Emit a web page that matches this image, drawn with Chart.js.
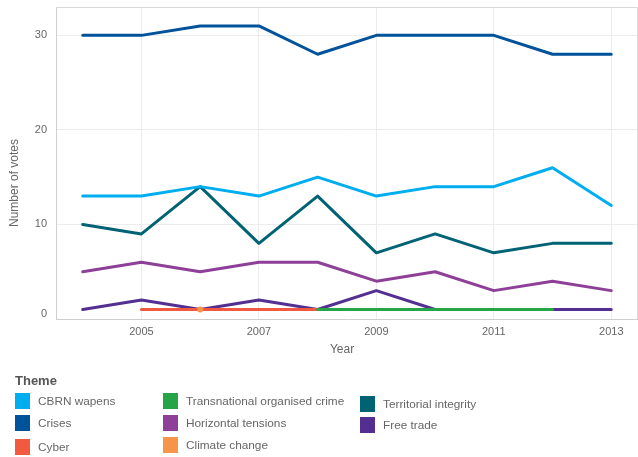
<!DOCTYPE html>
<html>
<head>
<meta charset="utf-8">
<script src="https://cdn.jsdelivr.net/npm/chart.js@4.4.1/dist/chart.umd.min.js"></script>
<style>
  html, body { margin:0; padding:0; background:#fff; }
  body { width:638px; height:457px; position:relative; overflow:hidden; font-family:"Liberation Sans",Arial,sans-serif; }
  #wrap { position:absolute; left:0; top:0; width:641px; height:360px; }
  #legend { position:absolute; left:0; top:0; width:638px; height:457px; pointer-events:none; }
  .ttl { position:absolute; left:15px; top:373px; font-weight:bold; font-size:13px; color:#555; }
  .item { position:absolute; height:16px; display:flex; align-items:center; font-size:11.8px; color:#666; white-space:nowrap; }
  .sw { width:15px; height:16px; margin-right:8px; flex:none; }
</style>
</head>
<body>
<div id="wrap"><canvas id="c" width="641" height="360"></canvas></div>
<div id="legend"><div class="ttl">Theme</div></div>
<script>
const years = [2004, 2005, 2006, 2007, 2008, 2009, 2010, 2011, 2012, 2013];
const xTicks = [2005, 2007, 2009, 2011, 2013];
const yTicks = [0, 10, 20, 30];

const cbrn          = [13, 13, 14, 13, 15, 13, 14, 14, 16, 12];
const crises        = [30, 30, 31, 31, 28, 30, 30, 30, 28, 28];
const cyber         = [null, 1, 1, 1, 1, null, null, null, null, null];
const transnational = [null, null, null, null, 1, 1, 1, 1, 1, null];
const horizontal    = [5, 6, 5, 6, 6, 4, 5, 3, 4, 3];
const climate       = [null, null, 1, null, null, null, null, null, null, null];
const territorial   = [10, 9, 14, 8, 13, 7, 9, 7, 8, 8];
const freeTrade     = [1, 2, 1, 2, 1, 3, 1, 1, 1, 1];

const seriesNames = ["CBRN wapens", "Crises", "Cyber", "Transnational organised crime",
                     "Horizontal tensions", "Climate change", "Territorial integrity", "Free trade"];
const seriesData = [cbrn, crises, cyber, transnational, horizontal, climate, territorial, freeTrade];
const colors = ["#00AEEF", "#00529B", "#F15A40", "#26A548", "#8E3F98", "#F6944A", "#006374", "#532F91"];
// draw order (lower = on top)
const drawOrder = [4, 3, 2, 1, 5, 0, 6, 7];

// legend layout (positions)
const legendPos = [
  [15, 393], [15, 415], [15, 439],
  [163, 393], [163, 415], [163, 437],
  [360, 396], [360, 417]
];

const datasets = seriesNames.map((name, i) => ({
  label: name,
  data: years.map((y, k) => ({x: y, y: seriesData[i][k]})).filter(p => p.y !== null),
  borderColor: colors[i],
  backgroundColor: colors[i],
  borderWidth: 3,
  pointRadius: name === "Climate change" ? 3 : 0,
  pointBorderWidth: 0,
  pointHoverRadius: 0,
  tension: 0,
  order: drawOrder[i],
  borderCapStyle: 'round',
  borderJoinStyle: 'round'
}));

const frame = {
  id: 'frame',
  beforeDatasetsDraw(chart) {
    const {ctx, chartArea: a} = chart;
    ctx.save();
    ctx.strokeStyle = '#d9d9d9';
    ctx.lineWidth = 1;
    ctx.beginPath();
    ctx.moveTo(a.left, a.top + 0.5);
    ctx.lineTo(a.right - 0.5, a.top + 0.5);
    ctx.lineTo(a.right - 0.5, a.bottom);
    ctx.stroke();
    ctx.restore();
  }
};

const tickFont = { family: "'Liberation Sans', Arial, sans-serif", size: 11, lineHeight: '10px' };

new Chart(document.getElementById('c'), {
  type: 'line',
  data: { datasets },
  plugins: [frame],
  options: {
    responsive: false,
    animation: false,
    events: [],
    layout: { padding: { top: 7, right: 0, left: 0, bottom: 0 } },
    plugins: { legend: { display: false }, tooltip: { enabled: false } },
    scales: {
      x: {
        type: 'linear',
        min: 2003.545,
        max: 2013.455,
        afterBuildTicks: s => { s.ticks = xTicks.map(v => ({ value: v })); },
        afterFit: s => { s.height = 41; s.paddingLeft = 0; s.paddingRight = 0; },
        ticks: { color: '#666', font: { family: "'Liberation Sans', Arial, sans-serif", size: 11 }, padding: 6, maxRotation: 0, autoSkip: false, callback: v => String(v) },
        grid: { color: '#ececec', drawTicks: false, lineWidth: 1 },
        border: { color: '#cfcfcf', width: 1 },
        title: { display: true, text: 'Year' + '\u00a0'.repeat(3), color: '#666', font: { family: "'Liberation Sans', Arial, sans-serif", size: 12 }, padding: { top: 0, bottom: 3 } }
      },
      y: {
        min: 0,
        max: 33,
        afterBuildTicks: s => { s.ticks = yTicks.map(v => ({ value: v })); },
        afterFit: s => { s.width = 56; s.paddingTop = 0; s.paddingBottom = 0; },
        ticks: { color: '#666', font: tickFont, padding: 9, callback: v => v === 0 ? ["0", ""] : String(v) },
        grid: { color: ctx => ctx.tick && ctx.tick.value === 0 ? 'rgba(0,0,0,0)' : '#ececec', drawTicks: false, lineWidth: 1 },
        border: { color: '#cfcfcf', width: 1 },
        title: { display: true, text: 'Number of votes' + '\u00a0'.repeat(12), color: '#666', font: { family: "'Liberation Sans', Arial, sans-serif", size: 12 }, padding: { top: 7, bottom: 0 } }
      }
    }
  }
});

// HTML legend
const lg = document.getElementById('legend');
seriesNames.forEach((name, i) => {
  const it = document.createElement('div');
  it.className = 'item';
  it.style.left = legendPos[i][0] + 'px';
  it.style.top = legendPos[i][1] + 'px';
  const sw = document.createElement('span');
  sw.className = 'sw';
  sw.style.background = colors[i];
  const tx = document.createElement('span');
  tx.textContent = name;
  it.appendChild(sw);
  it.appendChild(tx);
  lg.appendChild(it);
});
</script>
</body>
</html>
